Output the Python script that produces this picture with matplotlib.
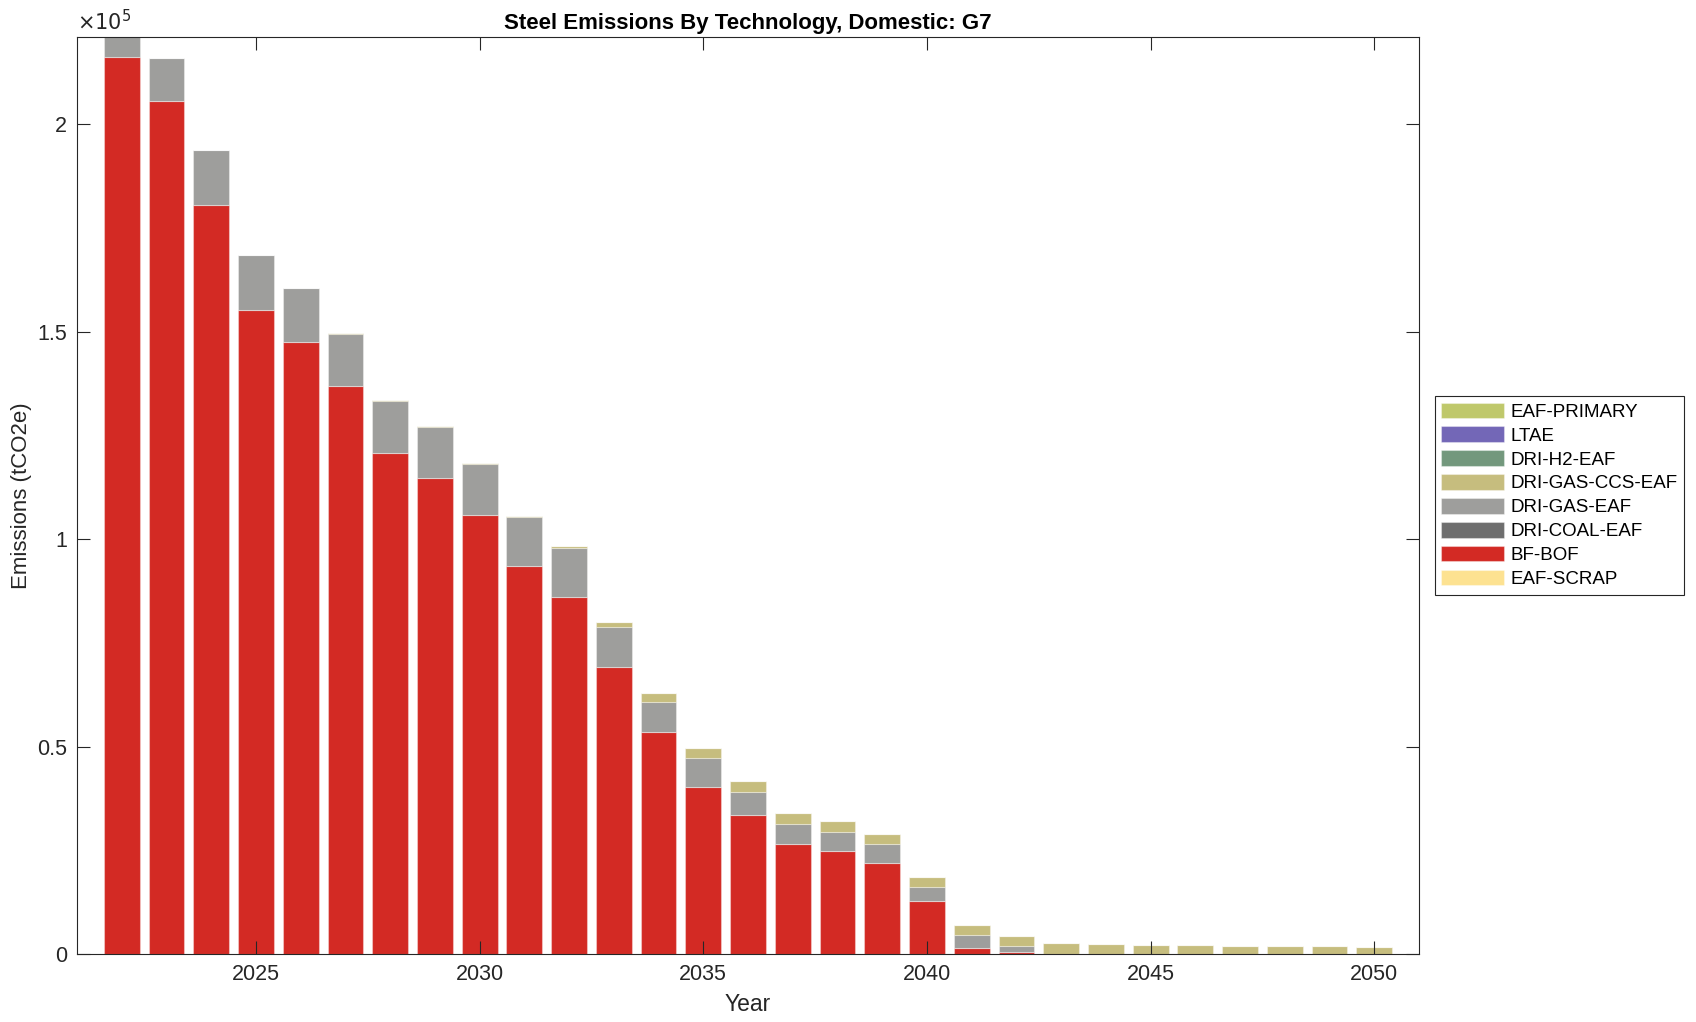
import numpy as np
import matplotlib
matplotlib.use("Agg")
import matplotlib.pyplot as plt
from matplotlib.ticker import FuncFormatter, MultipleLocator

plt.rcParams['font.family'] = ['Liberation Sans', 'DejaVu Sans']

# Data (tCO2e)
years = list(range(2022, 2051))

bf_bof = [216100, 205600, 180400, 155300, 147400, 136900, 120700, 114800, 105900, 93600,
          86000, 69100, 53400, 40300, 33400, 26500, 24900, 22000, 12700, 1370,
          560, 0, 0, 0, 0, 0, 0, 0, 0]
dri_gas_eaf = [11000, 10300, 13300, 13100, 13100, 12500, 12500, 12200, 12200, 11800,
               11800, 9700, 7300, 6900, 5600, 4800, 4600, 4400, 3400, 3290,
               1450, 0, 0, 0, 0, 0, 0, 0, 0]
dri_gas_ccs_eaf = [0, 0, 0, 0, 0, 200, 200, 200, 200, 200,
                   500, 1200, 2200, 2500, 2700, 2800, 2600, 2500, 2400, 2340,
                   2410, 2570, 2330, 2170, 2130, 2010, 1930, 1900, 1690]
eaf_scrap = [0] * len(years)
dri_coal_eaf = [0] * len(years)
dri_h2_eaf = [0] * len(years)
ltae = [0] * len(years)
eaf_primary = [0] * len(years)

# bottom-to-top stacking order
series = [
    ('EAF-SCRAP', eaf_scrap, '#fde291'),
    ('BF-BOF', bf_bof, '#d32a24'),
    ('DRI-COAL-EAF', dri_coal_eaf, '#6e6e6e'),
    ('DRI-GAS-EAF', dri_gas_eaf, '#9e9e9c'),
    ('DRI-GAS-CCS-EAF', dri_gas_ccs_eaf, '#c6bd7e'),
    ('DRI-H2-EAF', dri_h2_eaf, '#73987d'),
    ('LTAE', ltae, '#7367b7'),
    ('EAF-PRIMARY', eaf_primary, '#bfc86b'),
]

fig = plt.figure(figsize=(16.96, 10.22), dpi=100)
ax = fig.add_axes([0.0454, 0.0665, 0.7913, 0.8973])

bottom = np.zeros(len(years))
handles = []
for name, vals, col in series:
    vals = np.array(vals, dtype=float)
    h = ax.bar(years, vals, width=0.8, bottom=bottom, color=col,
               edgecolor=(1, 1, 1, 0.35), linewidth=0.8, label=name)
    handles.append(h)
    bottom += vals

ax.set_xlim(2021, 2051)
ax.set_ylim(0, 221000)
ax.xaxis.set_major_locator(MultipleLocator(5))
ax.yaxis.set_major_locator(MultipleLocator(50000))
ax.yaxis.set_major_formatter(FuncFormatter(lambda v, p: f"{v / 1e5:g}"))

dark = '#262626'
for s in ax.spines.values():
    s.set_linewidth(0.8)
    s.set_color(dark)
ax.tick_params(direction='in', length=9.5, width=0.8, top=True, right=True,
               labelsize=15.5, colors=dark, pad=7)

ax.text(0, 1.003, r'$\times10^{5}$', transform=ax.transAxes, fontsize=15,
        color=dark, va='bottom', ha='left')
ax.set_title('Steel Emissions By Technology, Domestic: G7', fontsize=16,
             fontweight='bold', pad=6)
ax.set_xlabel('Year', fontsize=16.5, color=dark, labelpad=6)
ax.set_ylabel('Emissions (tCO2e)', fontsize=16, color=dark, labelpad=4)

leg = fig.legend(handles[::-1], [s[0] for s in series][::-1],
                 loc='upper left', bbox_to_anchor=(0.846, 0.6125),
                 bbox_transform=fig.transFigure, fontsize=13.5,
                 fancybox=False, framealpha=1, edgecolor=dark,
                 handlelength=3.35, handleheight=0.9, labelspacing=0.3,
                 handletextpad=0.35, borderpad=0.35, borderaxespad=0)
leg.get_frame().set_linewidth(0.8)

fig.savefig('out.png', dpi=100)
